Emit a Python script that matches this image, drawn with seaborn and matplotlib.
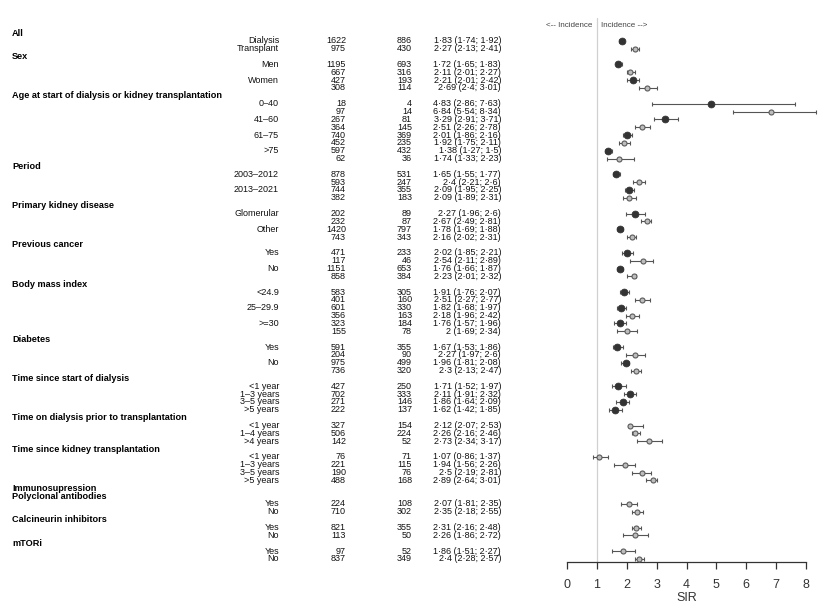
import numpy as np
import pandas as pd
import matplotlib
matplotlib.use("Agg")
import matplotlib.pyplot as plt
import matplotlib.transforms as mtransforms
import seaborn as sns

# --- data ---
sections = ["All", "Sex", "Age at start of dialysis or kidney transplantation", "Period",
            "Primary kidney disease", "Previous cancer", "Body mass index", "Diabetes",
            "Time since start of dialysis", "Time on dialysis prior to transplantation",
            "Time since kidney transplantation", "Immunosupression", "Polyclonal antibodies",
            "Calcineurin inhibitors", "mTORi"]
section_sizes = [2, 4, 8, 4, 4, 4, 6, 4, 4, 3, 4, 0, 2, 2, 2]

labels = ["Dialysis", "Transplant",
          "Men", "", "Women", "",
          "0–40", "", "41–60", "", "61–75", "", ">75", "",
          "2003–2012", "", "2013–2021", "",
          "Glomerular", "", "Other", "",
          "Yes", "", "No", "",
          "<24.9", "", "25–29.9", "", ">=30", "",
          "Yes", "", "No", "",
          "<1 year", "1–3 years", "3–5 years", ">5 years",
          "<1 year", "1–4 years", ">4 years",
          "<1 year", "1–3 years", "3–5 years", ">5 years",
          "Yes", "No", "Yes", "No", "Yes", "No"]

# D = dialysis (filled), T = transplant (open)
cohort = (["D", "T"] * 1 + ["D", "T"] * 2 + ["D", "T"] * 4 + ["D", "T"] * 2 +
          ["D", "T"] * 2 + ["D", "T"] * 2 + ["D", "T"] * 3 + ["D", "T"] * 2 +
          ["D"] * 4 + ["T"] * 3 + ["T"] * 4 + ["T"] * 6)

n_obs = [1622, 975, 1195, 667, 427, 308, 18, 97, 267, 364, 740, 452, 597, 62,
         878, 593, 744, 382, 202, 232, 1420, 743, 471, 117, 1151, 858,
         583, 401, 601, 356, 323, 155, 591, 204, 975, 736,
         427, 702, 271, 222, 327, 506, 142, 76, 221, 190, 488,
         224, 710, 821, 113, 97, 837]
n_events = [886, 430, 693, 316, 193, 114, 4, 14, 81, 145, 369, 235, 432, 36,
            531, 247, 355, 183, 89, 87, 797, 343, 233, 46, 653, 384,
            305, 160, 330, 163, 184, 78, 355, 90, 499, 320,
            250, 333, 146, 137, 154, 224, 52, 71, 115, 76, 168,
            108, 302, 355, 50, 52, 349]
sir = [1.83, 2.27, 1.72, 2.11, 2.21, 2.69, 4.83, 6.84, 3.29, 2.51, 2.01, 1.92, 1.38, 1.74,
       1.65, 2.4, 2.09, 2.09, 2.27, 2.67, 1.78, 2.16, 2.02, 2.54, 1.76, 2.23,
       1.91, 2.51, 1.82, 2.18, 1.76, 2.0, 1.67, 2.27, 1.96, 2.3,
       1.71, 2.11, 1.86, 1.62, 2.12, 2.26, 2.73, 1.07, 1.94, 2.5, 2.89,
       2.07, 2.35, 2.31, 2.26, 1.86, 2.4]
lo = [1.74, 2.13, 1.65, 2.01, 2.01, 2.4, 2.86, 5.54, 2.91, 2.26, 1.86, 1.75, 1.27, 1.33,
      1.55, 2.21, 1.95, 1.89, 1.96, 2.49, 1.69, 2.02, 1.85, 2.11, 1.66, 2.01,
      1.76, 2.27, 1.68, 1.96, 1.57, 1.69, 1.53, 1.97, 1.81, 2.13,
      1.52, 1.91, 1.64, 1.42, 2.07, 2.16, 2.34, 0.86, 1.56, 2.19, 2.64,
      1.81, 2.18, 2.16, 1.86, 1.51, 2.28]
hi = [1.92, 2.41, 1.83, 2.27, 2.42, 3.01, 7.63, 8.34, 3.71, 2.78, 2.16, 2.11, 1.5, 2.23,
      1.77, 2.6, 2.25, 2.31, 2.6, 2.81, 1.88, 2.31, 2.21, 2.89, 1.87, 2.32,
      2.07, 2.77, 1.97, 2.42, 1.96, 2.34, 1.86, 2.6, 2.08, 2.47,
      1.97, 2.32, 2.09, 1.85, 2.53, 2.46, 3.17, 1.37, 2.26, 2.81, 3.01,
      2.35, 2.55, 2.48, 2.72, 2.27, 2.57]

# row layout: a header line, then its data lines
header_rows = []
data_rows = []
r = 0
for name, k in zip(sections, section_sizes):
    header_rows.append(r)
    data_rows.extend(range(r + 1, r + 1 + k))
    r += 1 + k

df = pd.DataFrame({"label": labels, "cohort": cohort, "n": n_obs, "events": n_events,
                   "sir": sir, "lo": lo, "hi": hi, "row": data_rows})


def fmt(v):
    return f"{v:g}".replace(".", "·")


df["txt"] = [f"{fmt(s)} ({fmt(a)}; {fmt(b)})" for s, a, b in zip(df.sir, df.lo, df.hi)]

sns.set_theme(style="white")
plt.rcParams['font.family'] = ['Liberation Sans', 'DejaVu Sans']

W, H = 830, 607
fig = plt.figure(figsize=(W / 100, H / 100), dpi=100)
unit = (806 - 567) / 8
ax = fig.add_axes([(567 - 0.5 * unit) / W, (H - 562) / H, 9 * unit / W, (562 - 15) / H])
ax.set_xlim(-0.5, 8.5)
ax.set_ylim((562 - 33) / 7.85, (15 - 33) / 7.85)

ax.plot([1, 1], [(562 - 33) / 7.85, (18 - 33) / 7.85], color="#d0d0d0", lw=0.9, zorder=1)

ax.errorbar(df.sir, df.row, xerr=[df.sir - df.lo, df.hi - df.sir], fmt="none",
            ecolor="#555555", elinewidth=0.8, capsize=1.2, capthick=0.8, zorder=2)
sns.scatterplot(data=df[df.cohort == "D"], x="sir", y="row", color="#333333",
                edgecolor="#333333", s=24, linewidth=0.6, ax=ax, zorder=3, legend=False)
sns.scatterplot(data=df[df.cohort == "T"], x="sir", y="row", color="#bdbdbd",
                edgecolor="#5a5a5a", s=13, linewidth=0.8, ax=ax, zorder=3, legend=False)

for s in ["left", "top", "right"]:
    ax.spines[s].set_visible(False)
ax.spines["bottom"].set_bounds(0, 8)
ax.spines["bottom"].set_color("#333333")
ax.spines["bottom"].set_linewidth(0.9)
ax.set_xticks(range(9))
ax.set_yticks([])
ax.tick_params(axis="x", direction="out", length=5, width=0.9, color="#333333",
               labelsize=9, labelcolor="#333333", pad=7, bottom=True)
ax.set_xlabel("SIR", fontsize=9, color="#333333", labelpad=1)
ax.set_ylabel("")

ax.text(0.85, -1, "<-- Incidence", ha="right", va="center", fontsize=5.8, color="#444444")
ax.text(1.15, -1, "Incidence -->", ha="left", va="center", fontsize=5.8, color="#444444")

tr = mtransforms.blended_transform_factory(fig.transFigure, ax.transData)
for name, hr in zip(sections, header_rows):
    ax.text(12 / W, hr, name, transform=tr, ha="left", va="center", fontsize=6.6,
            fontweight="bold", color="#000000", clip_on=False)

for _, row in df.iterrows():
    y = row["row"]
    kw = dict(transform=tr, ha="right", va="center", fontsize=6.5, color="#111111", clip_on=False)
    ax.text(279 / W, y, row["label"], **kw)
    ax.text(346 / W, y, str(row["n"]), **kw)
    ax.text(412 / W, y, str(row["events"]), **kw)
    ax.text(501 / W, y, row["txt"], **kw)

fig.savefig("out.png", dpi=100, facecolor="white")
